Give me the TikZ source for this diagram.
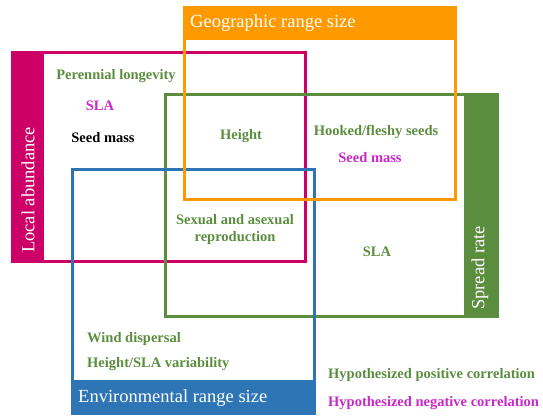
\documentclass[tikz,border=0pt]{standalone}
\usepackage{fontspec}
\setmainfont{Liberation Serif}
\definecolor{cOrange}{RGB}{255,153,0}
\definecolor{cMag}{RGB}{204,0,102}
\definecolor{cGreen}{RGB}{91,141,62}
\definecolor{cBlue}{RGB}{46,117,182}
\definecolor{tMag}{RGB}{200,40,200}
\begin{document}
\begin{tikzpicture}[x=1pt,y=-1pt,
  boxline/.style={line width=3pt},
  head/.style={font=\fontsize{18.5}{20}\selectfont, text=white, inner sep=0pt},
  lbl/.style={font=\fontsize{14.5}{17}\selectfont\bfseries, inner sep=0pt, align=center, yshift=-2pt},
  poslbl/.style={lbl, text=cGreen},
  neglbl/.style={lbl, text=tMag}]
\useasboundingbox (0,0) rectangle (543,418);
% filled bands
\fill[cOrange] (184,7) rectangle (455,40);
\fill[cMag] (12,52) rectangle (44,261);
\fill[cGreen] (464,94) rectangle (497,316);
\fill[cBlue] (72,380) rectangle (314,413);
% box outlines
\draw[boxline, cMag] (12,52) rectangle (305,261);
\draw[boxline, cGreen] (165,94) rectangle (497,316);
\draw[boxline, cBlue] (72,169) rectangle (314,413);
\draw[boxline, cOrange] (184,7) rectangle (455,199);
% headers
\node[head, anchor=west] (geo) at (190,23.5) {Geographic range size};
\node[head, anchor=west] (env) at (78,398.5) {Environmental range size};
\node[head, rotate=90] (loc) at (28,190) {Local abundance};
\node[head, rotate=90] (spr) at (480,268) {Spread rate};
% labels
\node[poslbl] (peren) at (116,74) {Perennial longevity};
\node[neglbl] (sla1) at (100,104) {SLA};
\node[lbl] (seed1) at (103,136) {Seed mass};
\node[poslbl] (height) at (241,134) {Height};
\node[poslbl] (hooked) at (376,130) {Hooked/fleshy seeds};
\node[neglbl] (seed2) at (370,156) {Seed mass};
\node[poslbl] (sexual) at (235,227.5) {Sexual and asexual\\reproduction};
\node[poslbl] (sla2) at (377,250) {SLA};
\node[poslbl, anchor=west] (wind) at (87,337) {Wind dispersal};
\node[poslbl, anchor=west] (hvar) at (87,362) {Height/SLA variability};
\node[poslbl, anchor=west] (hpos) at (328,373) {Hypothesized positive correlation};
\node[neglbl, anchor=west] (hneg) at (328,401) {Hypothesized negative correlation};
\end{tikzpicture}
\end{document}
